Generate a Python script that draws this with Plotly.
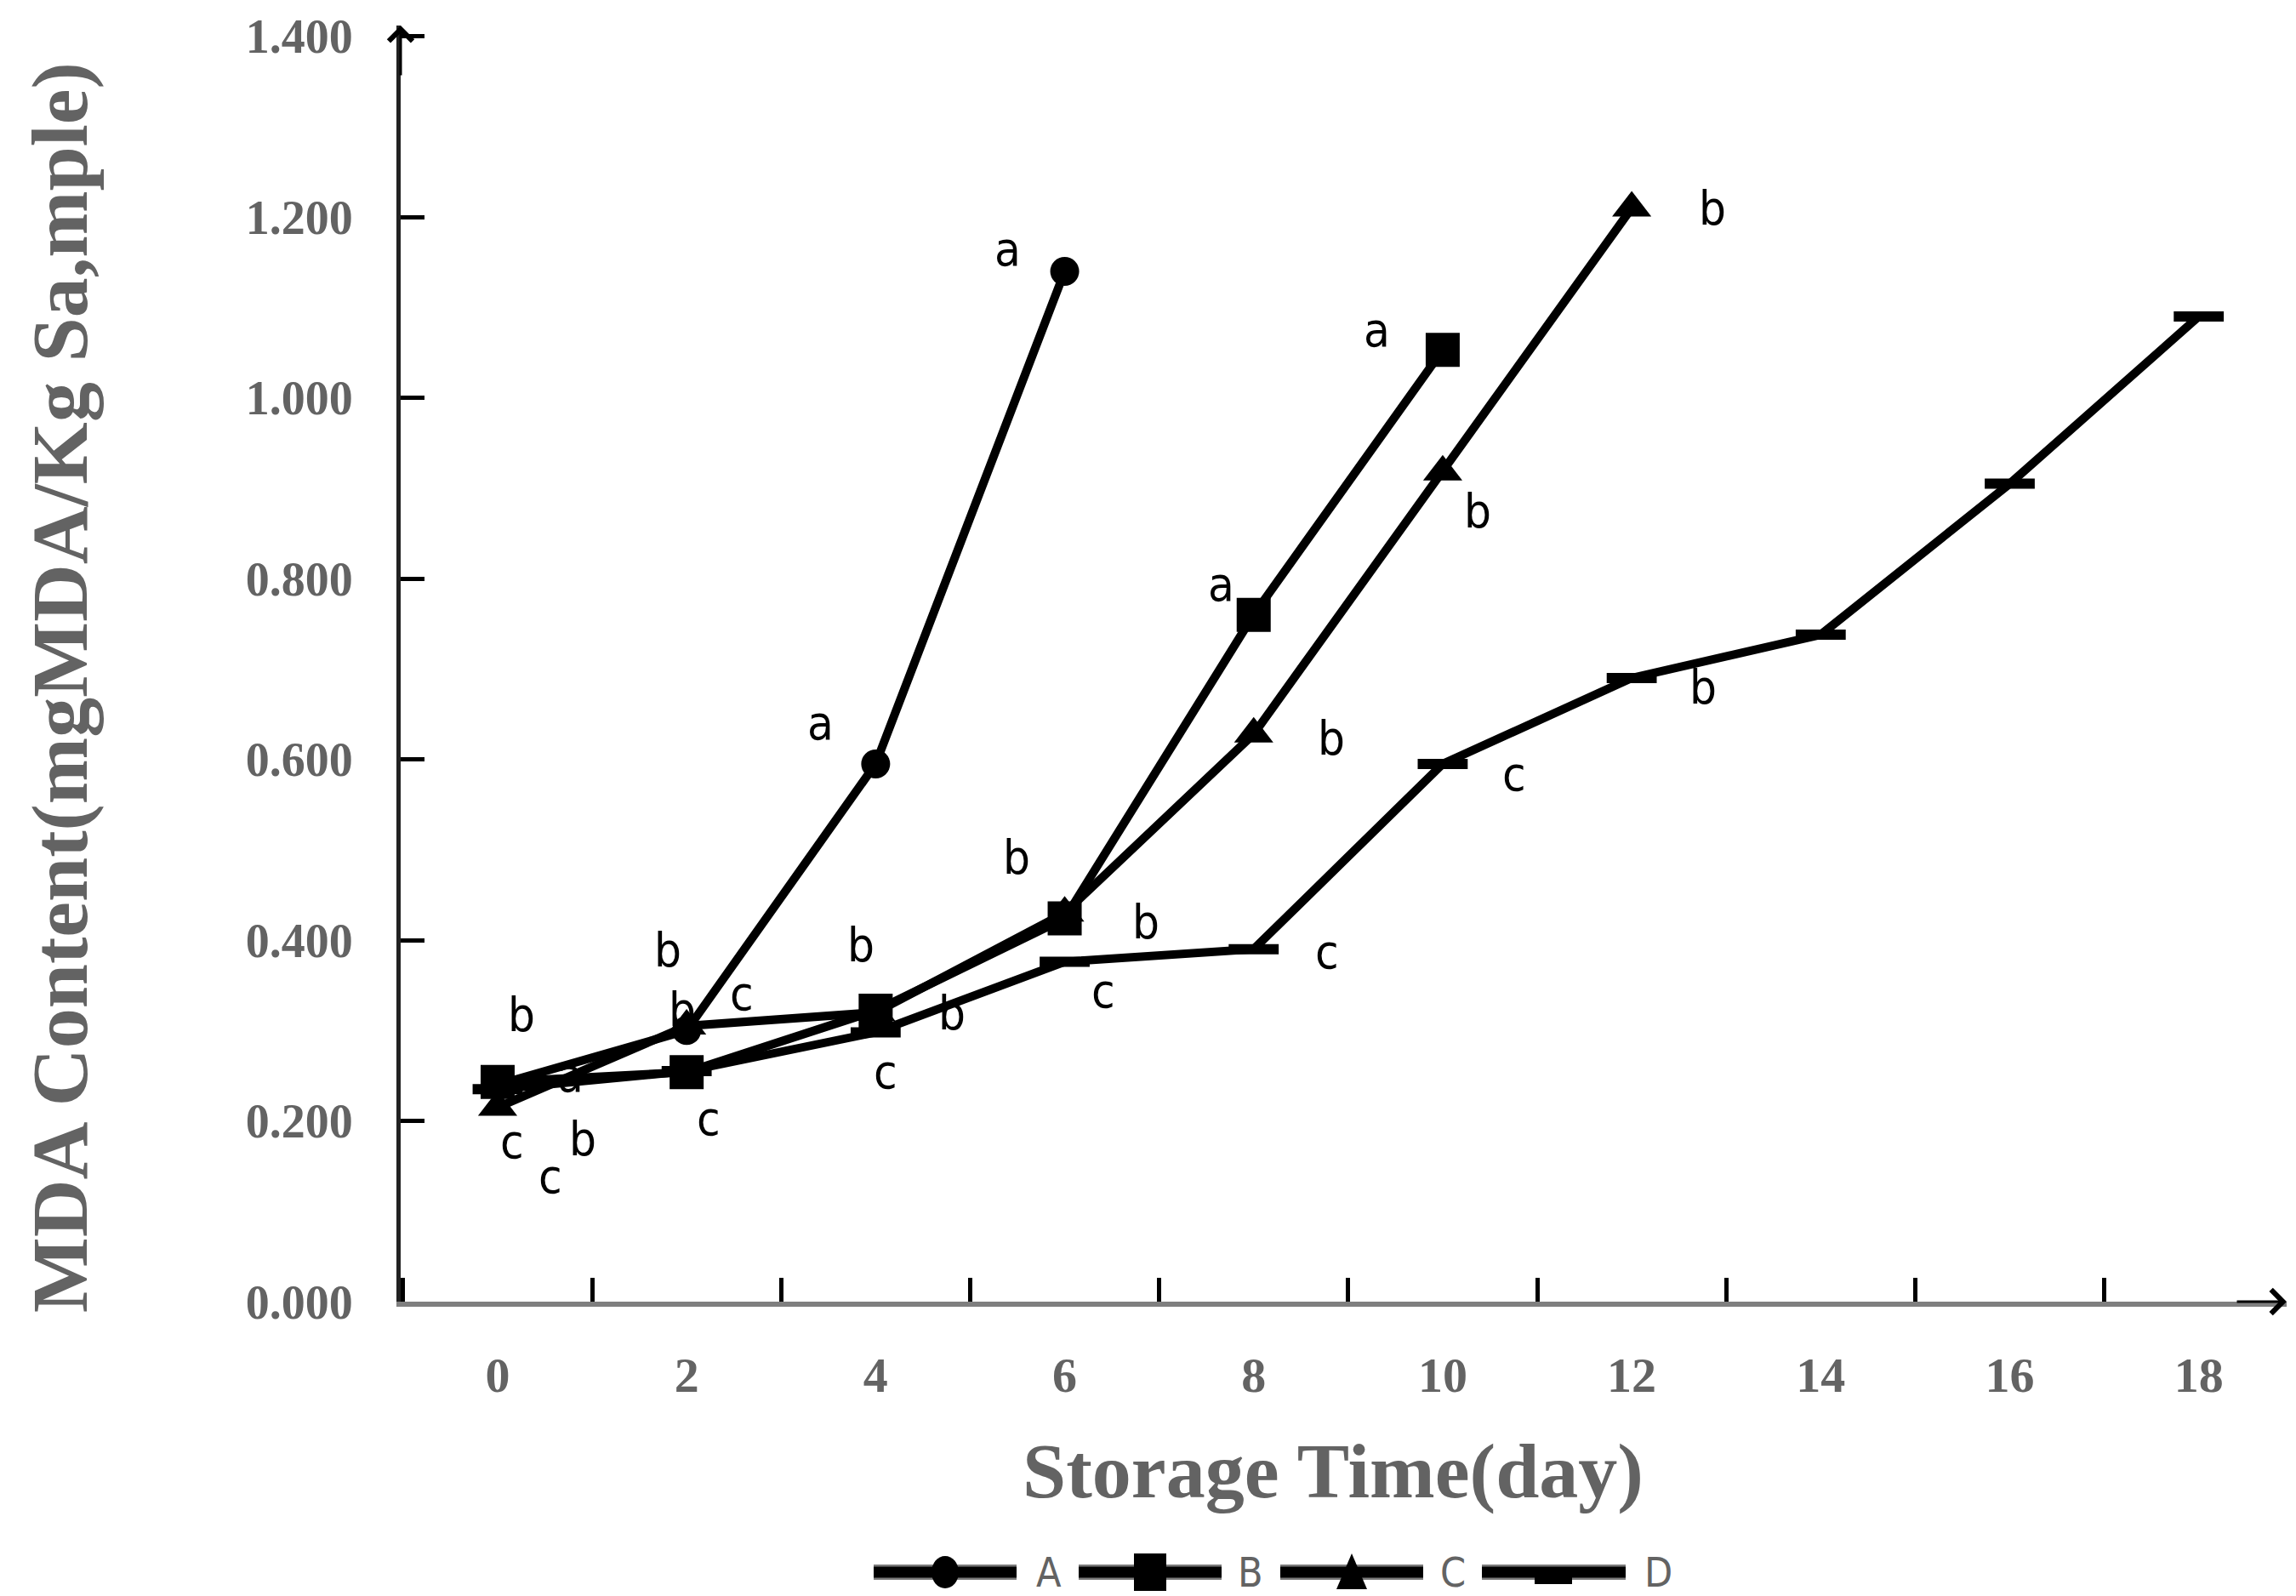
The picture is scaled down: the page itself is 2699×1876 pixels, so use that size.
import plotly.graph_objects as go

# storage time (days)
days = [0, 2, 4, 6, 8, 10, 12, 14, 16, 18]

# MDA content, mg MDA / kg sample
mda_a = [0.240, 0.300, 0.595, 1.140]
mda_b = [0.243, 0.254, 0.322, 0.424, 0.760, 1.053]
mda_c = [0.215, 0.305, 0.320, 0.430, 0.628, 0.918, 1.210]
mda_d = [0.235, 0.255, 0.298, 0.376, 0.390, 0.595, 0.690, 0.738, 0.905, 1.090]

# significance letters per point ('' = none)
sig_a = ["b", "b", "a", "a"]
sig_b = ["a", "b", "b", "b", "a", "a"]
sig_c = ["c", "c", "b", "b", "b", "b", "b"]
sig_d = ["b", "c", "c", "c", "c", "c", "b", "", "", ""]
sig_d_extra = ["c", "", "", "", "", "", "", "", "", ""]

series = ["A", "B", "C", "D"]

y_ticks = [0.0, 0.2, 0.4, 0.6, 0.8, 1.0, 1.2, 1.4]

# pixel offsets of the letters from their points (xshift, yshift)
offs = {
    "A": [(28, 83), (-22, 95), (-65, 48), (-67, 26)],
    "B": [(86, 8), (-5, 74), (-17, 77), (-57, 72), (-38, 36), (-77, 24)],
    "C": [(17, -40), (65, 38), (90, 0), (95, -10), (91, -5), (41, -46), (95, 0)],
    "D": [(100, -58), (26, -55), (12, -46), (45, -34), (86, -3), (84, -12), (84, -10),
          (0, 0), (0, 0), (0, 0)],
    "D2": [(62, -102)] + [(0, 0)] * 9,
}

W, H = 2699, 1876
ML, MR, MT, MB = 463, 19, 22, 354
XR = [-1.026, 18.93]
YR = [0, 1.412]

GRAY = "#636363"
SERIF = "Liberation Serif"
LETTER = "Liberation Sans Narrow, DejaVu Sans Condensed, Liberation Sans"

fig = go.Figure()

markers = {
    "A": dict(symbol="circle", size=34, color="black"),
    "B": dict(symbol="square", size=40, color="black"),
    "C": dict(symbol="triangle-up", size=40, color="black"),
    "D": dict(symbol="line-ew", size=42, color="black", line=dict(width=12, color="black")),
}
vals = {"A": mda_a, "B": mda_b, "C": mda_c, "D": mda_d}
sigs = {"A": sig_a, "B": sig_b, "C": sig_c, "D": sig_d}

for s in series:
    y = vals[s]
    fig.add_trace(go.Scatter(
        x=days[:len(y)], y=y, name=s, mode="lines+markers",
        line=dict(color="black", width=10),
        marker=markers[s],
        showlegend=False,
    ))

annotations = []
for s in series:
    for i, (v, t) in enumerate(zip(vals[s], sigs[s])):
        if not t:
            continue
        dx, dy = offs[s][i]
        annotations.append(dict(
            x=days[i], y=v, text=t, showarrow=False, xshift=dx, yshift=dy,
            font=dict(family=LETTER, size=56, color="black"),
        ))
for i, t in enumerate(sig_d_extra):
    if not t:
        continue
    dx, dy = offs["D2"][i]
    annotations.append(dict(
        x=days[i], y=mda_d[i], text=t, showarrow=False, xshift=dx, yshift=dy,
        font=dict(family=LETTER, size=56, color="black"),
    ))

# axis titles
pw = W - ML - MR
ph = H - MT - MB
annotations.append(dict(
    x=(62 - ML) / pw, y=(H - MB - 800) / ph, xref="paper", yref="paper",
    xanchor="center", yanchor="middle",
    text="MDA Content(mgMDA/Kg Sa,mple)", textangle=-90, showarrow=False,
    font=dict(family=SERIF, size=94, color=GRAY, weight="bold"),
))
annotations.append(dict(
    x=(1559 - ML) / pw, y=(H - MB - 1721) / ph, xref="paper", yref="paper",
    xanchor="center", yanchor="middle",
    text="Storage Time(day)", showarrow=False,
    font=dict(family=SERIF, size=92, color=GRAY, weight="bold"),
))

# axis arrowheads
annotations.append(dict(
    x=XR[0], y=YR[1], ax=0, ay=60, text="", showarrow=True,
    arrowhead=4, arrowsize=1.8, arrowwidth=3, arrowcolor="black",
))
annotations.append(dict(
    x=XR[1], y=0, ax=-60, ay=0, text="", showarrow=True,
    arrowhead=4, arrowsize=1.8, arrowwidth=3, arrowcolor="black",
))

# manual legend below the chart
shapes = []
leg_y = (H - MB - 1840) / ph
leg_items = [("A", 1019, 1187, 1103, 1225), ("B", 1260, 1428, 1344, 1462),
             ("C", 1497, 1665, 1581, 1700), ("D", 1734, 1903, 1818, 1941)]
for name, x0, x1, xm, xt in leg_items:
    px0, px1, pxm, pxt = [(v - ML) / pw for v in (x0, x1, xm, xt)]
    shapes.append(dict(type="line", xref="paper", yref="paper", x0=px0, x1=px1,
                       y0=leg_y, y1=leg_y, line=dict(color="#7a7a7a", width=18)))
    shapes.append(dict(type="line", xref="paper", yref="paper", x0=px0, x1=px1,
                       y0=leg_y, y1=leg_y, line=dict(color="black", width=13)))
    common = dict(xref="paper", yref="paper", xsizemode="pixel", ysizemode="pixel",
                  xanchor=pxm, yanchor=leg_y, fillcolor="black", line=dict(width=0))
    if name == "A":
        shapes.append(dict(type="circle", x0=-16, x1=16, y0=-19, y1=19, **common))
    elif name == "B":
        shapes.append(dict(type="rect", x0=-19, x1=19, y0=-22, y1=22, **common))
    elif name == "C":
        shapes.append(dict(type="path", path="M-18,-20 L18,-20 L0,22 Z", **common))
    else:
        shapes.append(dict(type="rect", x0=-22, x1=22, y0=-14, y1=4, **common))
    annotations.append(dict(
        x=pxt, y=leg_y, xref="paper", yref="paper", text=name, showarrow=False,
        xanchor="center", yanchor="middle",
        font=dict(family=LETTER, size=48, color=GRAY),
    ))

fig.update_layout(
    width=W, height=H,
    margin=dict(l=ML, r=MR, t=MT, b=MB, autoexpand=False),
    plot_bgcolor="white", paper_bgcolor="white",
    showlegend=False,
    annotations=annotations,
    shapes=shapes,
    xaxis=dict(
        range=XR, showgrid=False, zeroline=False,
        showline=True, linecolor="#7f7f7f", linewidth=6,
        tickvals=days, ticktext=[str(d) for d in days],
        ticks="", ticklabelstandoff=30,
        tickfont=dict(family=SERIF, size=58, color=GRAY, weight="bold"),
        minor=dict(tickvals=[-1, 1, 3, 5, 7, 9, 11, 13, 15, 17], ticks="inside",
                   ticklen=28, tickwidth=5, tickcolor="black", showgrid=False),
    ),
    yaxis=dict(
        range=YR, showgrid=False, zeroline=False,
        showline=True, linecolor="#222222", linewidth=5,
        tickvals=y_ticks, tickformat=".3f",
        ticks="inside", ticklen=28, tickwidth=5, tickcolor="black",
        ticklabelstandoff=40, ticklabeloverflow="allow",
        tickfont=dict(family=SERIF, size=56, color=GRAY, weight="bold"),
    ),
)

fig.write_html("out.html")
